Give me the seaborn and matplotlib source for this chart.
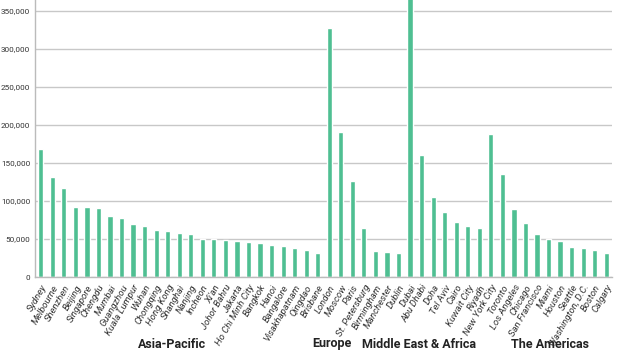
import matplotlib
matplotlib.use("Agg")
import matplotlib.pyplot as plt
import matplotlib.transforms as mtransforms
import seaborn as sns
import pandas as pd

cities = ["Sydney", "Melbourne", "Shenzhen", "Beijing", "Singapore", "Chengdu", "Mumbai",
          "Guangzhou", "Kuala Lumpur", "Wuhan", "Chongqing", "Hong Kong", "Shanghai", "Nanjing",
          "Incheon", "Xi'an", "Johor Bahru", "Jakarta", "Ho Chi Minh City", "Bangkok", "Hanoi",
          "Bangalore", "Visakhapatnam", "Qingdao", "Brisbane",
          "London", "Moscow", "Paris", "St. Petersburg", "Birmingham", "Manchester", "Dublin",
          "Dubai", "Abu Dhabi", "Doha", "Tel Aviv", "Cairo", "Kuwait City", "Riyadh",
          "New York City", "Toronto", "Los Angeles", "Chicago", "San Francisco", "Miami",
          "Houston", "Seattle", "Washington, D.C.", "Boston", "Calgary"]
values = [168000, 131000, 117000, 92000, 92000, 90500, 80000, 77000, 69500, 67000, 61500,
          60000, 57500, 56000, 50500, 49800, 49200, 48000, 46500, 45000, 42500, 41000,
          38000, 35500, 31600,
          327000, 191000, 126500, 65000, 34600, 32500, 31600,
          380000, 160000, 105000, 85500, 72000, 67500, 65000,
          188000, 135800, 89000, 71500, 56600, 49600, 47400, 39500, 38200, 35500, 31600]
regions = ["Asia-Pacific", "Europe", "Middle East & Africa", "The Americas"]
region_label_pos = [11.4, 25.2, 32.8, 44.1]

df = pd.DataFrame({"city": cities, "value": values})

sns.set_theme(style="white")
plt.rcParams['font.family'] = ['Roboto', 'DejaVu Sans']

fig = plt.figure(figsize=(6.2, 3.5), dpi=100)
ax = fig.add_axes([35/620, 1-277/350, (612-35)/620, 277/350])

sns.barplot(data=df, x="city", y="value", color="#4fbf92", saturation=1, width=0.45, ax=ax)

ax.set_ylim(0, 364500)
ax.set_xlim(-0.5, len(cities)-0.5)
ax.set_yticks(range(0, 350001, 50000))
ax.set_yticklabels([f"{v:,}" for v in range(0, 350001, 50000)], fontsize=5.9,
                   color="#333333")
ax.yaxis.grid(True, color="#c8c8c8", linewidth=1)
ax.set_axisbelow(True)
ax.set_xlabel("")
ax.set_ylabel("")
for s in ["top", "right"]:
    ax.spines[s].set_visible(False)
for s in ["left", "bottom"]:
    ax.spines[s].set_color("#bbbbbb")
    ax.spines[s].set_linewidth(1)
ax.tick_params(axis="y", length=2.5, color="#bbbbbb", width=0.8, pad=1)
ax.tick_params(axis="x", length=3, color="#bbbbbb", width=0.8, pad=1.5)
ax.set_xticks(range(len(cities)))
ax.set_xticklabels(cities, rotation=60, ha="right", rotation_mode="anchor",
                   fontsize=6.8, style="italic", color="#333333")

trans = mtransforms.blended_transform_factory(ax.transData, fig.transFigure)
for r, xp in zip(regions, region_label_pos):
    ax.text(xp, 1-344/350, r, transform=trans, ha="center", va="center",
            fontsize=9, fontweight="bold", color="#222222")

fig.savefig("out.png", dpi=100)
